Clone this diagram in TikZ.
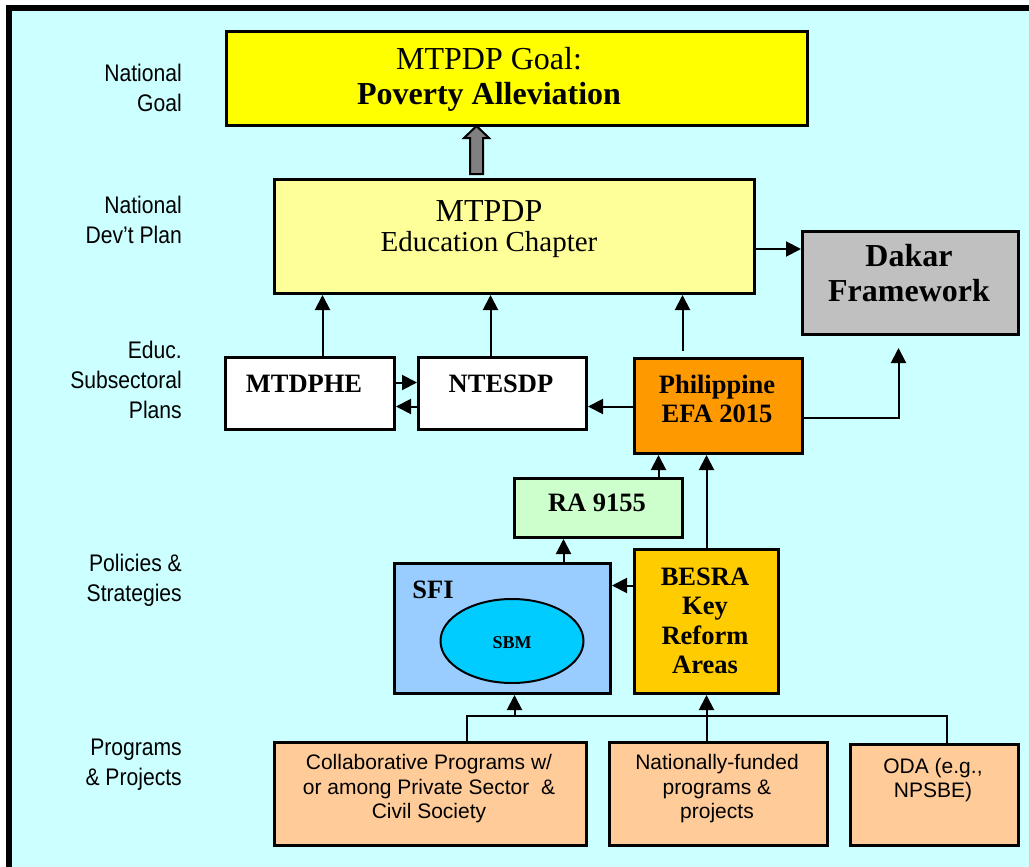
\documentclass[tikz,border=0pt]{standalone}
\usepackage{fontspec}
\setmainfont{Liberation Serif}
\newfontfamily\lblfont[FakeStretch=0.88]{Liberation Sans}
\newfontfamily\boxsans{Liberation Sans}
\usetikzlibrary{arrows.meta,calc,shapes.geometric}
\definecolor{bgcyan}{HTML}{CCFFFF}
\definecolor{goalyellow}{HTML}{FFFF00}
\definecolor{lightyellow}{HTML}{FFFF99}
\definecolor{dakargray}{HTML}{C0C0C0}
\definecolor{efaorange}{HTML}{FF9900}
\definecolor{ragreen}{HTML}{CCFFCC}
\definecolor{sfiblue}{HTML}{99CCFF}
\definecolor{sbmcyan}{HTML}{00CCFF}
\definecolor{besragold}{HTML}{FFCC00}
\definecolor{peach}{HTML}{FFCC99}
\definecolor{arrowgray}{HTML}{808080}
\tikzset{
  box/.style={draw=black, line width=3pt, inner sep=0pt, anchor=north west},
  arr/.style={line width=2pt, -{Triangle[length=15pt,width=15pt]}},
  conn/.style={line width=2pt},
  sidelabel/.style={anchor=east, align=right, inner sep=0pt, font=\lblfont\fontsize{24}{30}\selectfont},
  boldlbl/.style={align=center, inner sep=0pt, font=\bfseries\fontsize{26.5}{29.5}\selectfont},
  progtext/.style={align=center, inner sep=0pt, font=\boxsans\fontsize{21}{24.5}\selectfont},
}
\begin{document}
\begin{tikzpicture}[x=1pt,y=-1pt]
\useasboundingbox (0,0) rectangle (1029,867);
\fill[white] (0,0) rectangle (1029,867);
\fill[black] (6,5) rectangle (1029,867);
\fill[bgcyan] (12,11) rectangle (1029,867);

% side labels
\node[sidelabel] (lgoal) at (182,88) {National\\Goal};
\node[sidelabel] (lplan) at (182,220) {National\\Dev’t Plan};
\node[sidelabel] (lsub) at (182,380) {Educ.\\Subsectoral\\Plans};
\node[sidelabel] (lpol) at (182,580) {Policies \&\\Strategies};
\node[sidelabel] (lprog) at (182,765) {Programs\\\& Projects};

% boxes
\node[box, fill=goalyellow, minimum width=581pt, minimum height=94pt] (goal) at (225,30) {};
\node[box, fill=lightyellow, minimum width=480pt, minimum height=114pt] (ed) at (273,178) {};
\node[box, fill=dakargray, minimum width=216pt, minimum height=103pt] (dakar) at (801,230) {};
\node[box, fill=white, minimum width=169pt, minimum height=72pt] (mtdphe) at (224,356) {};
\node[box, fill=white, minimum width=168pt, minimum height=72pt] (ntesdp) at (417,356) {};
\node[box, fill=efaorange, minimum width=168pt, minimum height=95pt] (efa) at (633,357) {};
\node[box, fill=ragreen, minimum width=168pt, minimum height=59pt] (ra) at (513,477) {};
\node[box, fill=sfiblue, minimum width=216pt, minimum height=130pt] (sfi) at (393,562) {};
\node[box, fill=besragold, minimum width=144pt, minimum height=144pt] (besra) at (633,548) {};
\node[box, fill=peach, minimum width=312pt, minimum height=103pt] (collab) at (273,741) {};
\node[box, fill=peach, minimum width=218pt, minimum height=103pt] (natl) at (608,741) {};
\node[box, fill=peach, minimum width=168pt, minimum height=101pt] (oda) at (849,743) {};
\node[draw=black, line width=2pt, fill=sbmcyan, ellipse, minimum width=143pt, minimum height=84pt, inner sep=0pt] (sbm) at (512,641) {};

% texts
\node[inner sep=0pt, font=\fontsize{32}{35}\selectfont] (goalt1) at (489,59) {MTPDP Goal:};
\node[inner sep=0pt, font=\bfseries\fontsize{32}{35}\selectfont] (goalt2) at (489,97) {Poverty Alleviation};
\node[inner sep=0pt, font=\fontsize{32}{35}\selectfont] (edt1) at (489,211) {MTPDP};
\node[inner sep=0pt, font=\fontsize{29}{34}\selectfont] (edt2) at (489,245) {Education Chapter};
\node[inner sep=0pt, align=center, font=\bfseries\fontsize{32}{35}\selectfont] (dakart) at (909,273) {Dakar\\Framework};
\node[boldlbl] (mtdphet) at (304,384) {MTDPHE};
\node[boldlbl] (ntesdpt) at (501,384) {NTESDP};
\node[boldlbl] (efat) at (717,399) {Philippine\\EFA 2015};
\node[boldlbl] (rat) at (597,503) {RA 9155};
\node[boldlbl] (sfit) at (433,590) {SFI};
\node[boldlbl] (besrat) at (705,621) {BESRA\\Key\\Reform\\Areas};
\node[inner sep=0pt, font=\bfseries\fontsize{18}{20}\selectfont] (sbmt) at (512,643) {SBM};
\node[progtext] (collabt) at (429,789) {Collaborative Programs w/\\or among Private Sector \ \&\\Civil Society};
\node[progtext] (natlt) at (717,789) {Nationally-funded\\programs \&\\projects};
\node[progtext] (odat) at (933,780) {ODA (e.g.,\\NPSBE)};

% block arrow goal <- ed
\draw[line width=2pt, fill=arrowgray, line join=miter]
  (476.5,126) -- (489,138) -- (483,138) -- (483,174) -- (470,174) -- (470,138) -- (464,138) -- cycle;

% connectors
\draw[arr] ([yshift=-12.5pt]ed.east) -- ([yshift=-12.5pt]ed.east -| dakar.west);
\draw[arr] ([xshift=12.5pt]mtdphe.north) -- ([xshift=12.5pt]mtdphe.north |- ed.south);
\draw[arr] ([xshift=-12pt]ntesdp.north) -- ([xshift=-12pt]ntesdp.north |- ed.south);
\draw[arr] ([xshift=-36pt,yshift=6pt]efa.north) -- ([xshift=-36pt]efa.north |- ed.south);
\draw[arr] ([yshift=11pt]mtdphe.east) -- ([yshift=11pt]mtdphe.east -| ntesdp.west);
\draw[arr] ([yshift=-13pt]ntesdp.west) -- ([yshift=-13pt]ntesdp.west -| mtdphe.east);
\draw[arr] ([yshift=-0.5pt]efa.west) -- ([yshift=-0.5pt]efa.west -| ntesdp.east);
\draw[arr] ([yshift=-12pt]efa.east) -| ([xshift=-12pt,yshift=-12pt]dakar.south);
\draw[arr] ([xshift=60pt]ra.north) -- ([xshift=60pt]ra.north |- efa.south);
\draw[arr] (besra.north) -- (besra.north |- efa.south);
\draw[arr] ([xshift=61pt]sfi.north) -- ([xshift=61pt]sfi.north |- ra.south);
\draw[arr] ([yshift=36pt]besra.west) -- ([yshift=36pt]besra.west -| sfi.east);

\coordinate (busL) at ([xshift=36pt,yshift=25pt]collab.north);
\coordinate (sfiIn) at ([xshift=12pt]sfi.south);
\coordinate (natTop) at ([xshift=-12pt]natl.north);
\draw[conn] ([xshift=36pt]collab.north) -- (busL) -| ([xshift=12pt]oda.north);
\draw[arr] (busL -| sfiIn) -- (sfiIn);
\draw[arr] (natTop) -- (natTop |- besra.south);
\end{tikzpicture}
\end{document}
